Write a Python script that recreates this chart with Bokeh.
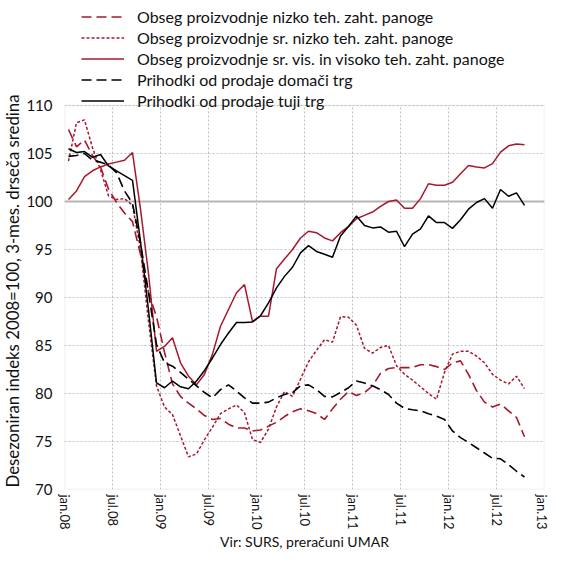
from bokeh.plotting import figure
from bokeh.models import (Range1d, FixedTicker, Span, Legend, LegendItem,
                          BoxAnnotation, Title)
from bokeh.embed import file_html
from bokeh.resources import INLINE

# Monthly observations jan.08 .. oct.12
n_months = 58
month_idx = list(range(n_months))

tick_months = [0, 6, 12, 18, 24, 30, 36, 42, 48, 54, 60]
tick_labels = ["jan.08", "jul.08", "jan.09", "jul.09", "jan.10", "jul.10",
               "jan.11", "jul.11", "jan.12", "jul.12", "jan.13"]
y_ticks = [70, 75, 80, 85, 90, 95, 100, 105, 110]

nizko = [107.5, 105.7, 106.4, 104.8, 103.6, 101.3, 99.9, 98.8, 97.9, 94.5,
         90.5, 88.0, 84.3, 81.0, 79.7, 79.0, 78.4, 77.7, 77.3, 77.4,
         76.8, 76.4, 76.4, 76.1, 76.2, 76.6, 77.0, 77.6, 78.1, 78.4,
         78.2, 77.9, 77.3, 78.4, 79.4, 80.2, 79.8, 80.1, 80.8, 82.1,
         82.6, 82.7, 82.7, 82.7, 83.0, 83.0, 82.8, 82.5, 83.2, 83.4,
         82.0, 80.3, 79.1, 78.6, 78.9, 78.2, 77.5, 75.5]
sr_nizko = [104.2, 108.2, 108.5, 105.6, 103.3, 100.6, 100.2, 100.3, 99.6, 95.0,
            87.5, 80.8, 78.6, 77.8, 75.6, 73.4, 73.7, 75.2, 76.5, 77.9,
            78.4, 78.8, 78.0, 75.2, 74.9, 76.3, 78.6, 80.2, 79.7, 81.5,
            83.3, 84.5, 85.6, 85.35, 88.0, 87.95, 87.1, 84.7, 84.2, 84.8,
            85.0, 82.9, 82.0, 81.4, 80.7, 80.0, 79.4, 82.2, 84.1, 84.4,
            84.4, 83.9, 83.2, 82.0, 81.4, 81.0, 81.8, 80.5]
sr_vis = [100.2, 101.1, 102.6, 103.2, 103.6, 103.9, 104.1, 104.3, 105.1, 99.2,
          92.5, 84.4, 84.9, 85.8, 83.2, 81.8, 80.9, 82.0, 84.1, 87.0,
          88.75, 90.5, 91.35, 87.5, 88.05, 88.05, 93.0, 94.0, 95.0, 96.2,
          96.9, 96.75, 96.2, 95.9, 96.75, 97.4, 98.2, 98.55, 98.9, 99.5,
          100.0, 100.15, 99.3, 99.3, 100.3, 101.85, 101.7, 101.7, 102.0, 102.9,
          103.75, 103.6, 103.5, 103.95, 105.15, 105.8, 106.0, 105.9]
domaci = [104.7, 104.8, 105.0, 104.3, 104.1, 103.8, 103.0, 101.1, 99.8, 95.7,
          90.5, 85.1, 83.2, 82.85, 82.2, 81.5, 80.8, 80.1, 79.55, 80.4,
          80.9, 80.25, 79.55, 79.0, 79.0, 79.1, 79.55, 79.9, 80.1, 80.8,
          80.9, 80.4, 79.7, 79.65, 80.1, 80.6, 81.3, 81.1, 80.8, 80.4,
          79.9, 79.0, 78.45, 78.3, 78.2, 77.9, 77.65, 77.3, 76.1, 75.4,
          74.9, 74.35, 73.8, 73.25, 73.2, 72.6, 71.9, 71.3]
tuji = [105.5, 105.1, 105.2, 104.6, 104.9, 103.7, 103.2, 102.7, 102.2, 95.8,
        88.7, 81.1, 80.6, 81.3, 80.7, 80.5, 81.3, 82.4, 83.7, 85.1,
        86.3, 87.4, 87.4, 87.45, 88.1, 89.45, 91.0, 92.2, 93.15, 94.65,
        95.4, 94.8, 94.5, 94.2, 96.4, 97.4, 98.5, 97.5, 97.25, 97.35,
        96.8, 96.9, 95.3, 96.6, 97.15, 98.5, 97.8, 97.8, 97.2, 98.1,
        99.2, 99.9, 100.3, 99.3, 101.25, 100.55, 100.9, 99.6]

labels = ["Obseg proizvodnje nizko teh. zaht. panoge",
          "Obseg proizvodnje sr. nizko teh. zaht. panoge",
          "Obseg proizvodnje sr. vis. in visoko teh. zaht. panoge",
          "Prihodki od prodaje domači trg",
          "Prihodki od prodaje tuji trg"]
y_title = "Desezoniran indeks 2008=100, 3-mes. drseča sredina"
x_title = "Vir: SURS, preračuni UMAR"

RED = "#a8182c"
BLACK = "#000000"
FONT = "Lato"

series = [nizko, sr_nizko, sr_vis, domaci, tuji]
styles = [dict(line_color=RED, line_width=1.6, line_dash="10 5"),
          dict(line_color=RED, line_width=1.5, line_dash="3 2"),
          dict(line_color=RED, line_width=1.5, line_dash="solid"),
          dict(line_color=BLACK, line_width=1.6, line_dash="10 5"),
          dict(line_color=BLACK, line_width=1.5, line_dash="solid")]

# points sit in the middle of each month
x = [m + 0.5 for m in month_idx]

# Layout (px): the frame also holds the legend strip above the value box
W, H = 549, 560
B_LEFT, B_RIGHT, B_BOTTOM = 60, 5, 71
LEGEND_STRIP = 105              # height of the legend strip above y=110
box_h = H - B_BOTTOM - LEGEND_STRIP
y_lo, y_hi = y_ticks[0], y_ticks[-1]
y_top = y_hi + (y_hi - y_lo) * LEGEND_STRIP / box_h

p = figure(width=W, height=H, output_backend="svg", toolbar_location=None,
           x_range=Range1d(tick_months[0], tick_months[-1]),
           y_range=Range1d(y_lo, y_top),
           min_border_left=B_LEFT, min_border_right=B_RIGHT, min_border_top=0,
           min_border_bottom=B_BOTTOM)
p.background_fill_color = "white"
p.border_fill_color = "white"
p.outline_line_color = None

# grid: horizontal dotted lines at y ticks, vertical dotted segments in the box
p.ygrid.ticker = FixedTicker(ticks=y_ticks)
p.ygrid.grid_line_color = "#c0c0c0"
p.ygrid.grid_line_dash = "2 2"
p.xgrid.visible = False
inner = tick_months[1:-1]
p.segment(x0=inner, y0=[y_lo] * len(inner), x1=inner, y1=[y_hi] * len(inner),
          line_color="#c0c0c0", line_dash="2 2", line_width=1)

p.add_layout(Span(location=100, dimension="width", line_color="#b5b5b5",
                  line_width=2, level="underlay"))

p.add_layout(BoxAnnotation(left=tick_months[0], right=tick_months[-1],
                           bottom=y_lo, top=y_hi, fill_alpha=0,
                           line_color="#c4c4c4", line_width=1.5))

renderers = [p.line(x, ys, **st) for ys, st in zip(series, styles)]

# axes
p.xaxis.ticker = FixedTicker(ticks=tick_months)
p.xaxis.major_label_overrides = {t: l for t, l in zip(tick_months, tick_labels)}
p.xaxis.major_label_orientation = "vertical"
p.yaxis.ticker = FixedTicker(ticks=y_ticks)

for ax in (p.xaxis[0], p.yaxis[0]):
    ax.axis_line_color = None
    ax.major_tick_line_color = None
    ax.minor_tick_line_color = None
    ax.major_tick_out = 0
    ax.major_tick_in = 0
    ax.minor_tick_out = 0
    ax.minor_tick_in = 0
    ax.major_label_text_font = FONT
    ax.major_label_text_color = "#111111"
    ax.axis_label_text_font = FONT
    ax.axis_label_text_font_style = "normal"
    ax.axis_label_text_color = "#111111"

p.yaxis.major_label_text_font_size = "15px"
p.xaxis.major_label_text_font_size = "13px"
p.xaxis.major_label_standoff = 5
p.yaxis.major_label_standoff = 12
p.xaxis.axis_label = x_title
p.xaxis.axis_label_text_font_size = "14px"
p.xaxis.axis_label_standoff = 1

# y-axis title placed along the value box (not the whole frame)
p.add_layout(Title(text=y_title, align="left", offset=2, standoff=0,
                   vertical_align="middle", text_font=FONT,
                   text_font_size="16.8px", text_font_style="normal",
                   text_color="#111111"), "left")

legend = Legend(items=[LegendItem(label=l, renderers=[r])
                       for l, r in zip(labels, renderers)],
                location=(17, box_h - 6), orientation="vertical",
                glyph_width=43, glyph_height=21, label_height=21,
                label_standoff=13, spacing=0, padding=0, margin=0,
                border_line_color=None, background_fill_alpha=0,
                label_text_font=FONT, label_text_font_size="16px",
                label_text_color="#111111")
p.add_layout(legend, "center")

open("out.html", "w").write(file_html(p, INLINE))
